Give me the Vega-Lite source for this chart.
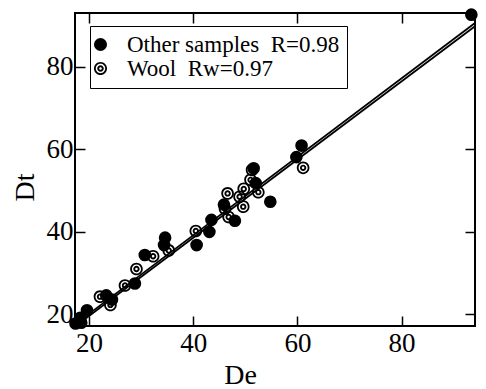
{
  "$schema": "https://vega.github.io/schema/vega-lite/v6.json",
  "width": 400,
  "height": 313,
  "autosize": {"type": "none"},
  "padding": {"left": 75, "top": 13, "right": 11, "bottom": 63},
  "background": "white",
  "datasets": {
    "pts": [
      {"De": 17.4, "Dt": 17.8, "group": "Other samples"},
      {"De": 18.5, "Dt": 18.0, "group": "Other samples"},
      {"De": 18.3, "Dt": 19.2, "group": "Other samples"},
      {"De": 19.6, "Dt": 21.0, "group": "Other samples"},
      {"De": 23.3, "Dt": 24.6, "group": "Other samples"},
      {"De": 24.4, "Dt": 23.6, "group": "Other samples"},
      {"De": 28.8, "Dt": 27.5, "group": "Other samples"},
      {"De": 30.7, "Dt": 34.4, "group": "Other samples"},
      {"De": 34.4, "Dt": 36.8, "group": "Other samples"},
      {"De": 34.6, "Dt": 38.6, "group": "Other samples"},
      {"De": 40.65, "Dt": 36.8, "group": "Other samples"},
      {"De": 43.1, "Dt": 40.0, "group": "Other samples"},
      {"De": 43.5, "Dt": 42.9, "group": "Other samples"},
      {"De": 48.0, "Dt": 42.7, "group": "Other samples"},
      {"De": 45.9, "Dt": 46.6, "group": "Other samples"},
      {"De": 51.6, "Dt": 55.4, "group": "Other samples"},
      {"De": 52.0, "Dt": 51.8, "group": "Other samples"},
      {"De": 54.8, "Dt": 47.3, "group": "Other samples"},
      {"De": 59.8, "Dt": 58.1, "group": "Other samples"},
      {"De": 60.8, "Dt": 60.9, "group": "Other samples"},
      {"De": 93.4, "Dt": 92.6, "group": "Other samples"},
      {"De": 22.1, "Dt": 24.3, "group": "Wool"},
      {"De": 24.1, "Dt": 22.3, "group": "Wool"},
      {"De": 26.9, "Dt": 27.0, "group": "Wool"},
      {"De": 29.1, "Dt": 31.0, "group": "Wool"},
      {"De": 32.3, "Dt": 34.1, "group": "Wool"},
      {"De": 35.3, "Dt": 35.5, "group": "Wool"},
      {"De": 40.5, "Dt": 40.2, "group": "Wool"},
      {"De": 46.1, "Dt": 45.6, "group": "Wool"},
      {"De": 46.8, "Dt": 43.6, "group": "Wool"},
      {"De": 46.6, "Dt": 49.3, "group": "Wool"},
      {"De": 48.9, "Dt": 48.5, "group": "Wool"},
      {"De": 49.6, "Dt": 46.1, "group": "Wool"},
      {"De": 49.7, "Dt": 50.4, "group": "Wool"},
      {"De": 51.0, "Dt": 52.6, "group": "Wool"},
      {"De": 51.3, "Dt": 55.0, "group": "Wool"},
      {"De": 52.5, "Dt": 49.6, "group": "Wool"},
      {"De": 61.1, "Dt": 55.5, "group": "Wool"}
    ],
    "fits": [
      {"De": 17.3, "Dt": 17.6, "fit": "Other samples"},
      {"De": 94.1, "Dt": 90.6, "fit": "Other samples"},
      {"De": 17.3, "Dt": 17.1, "fit": "Wool"},
      {"De": 94.1, "Dt": 89.8, "fit": "Wool"}
    ]
  },
  "layer": [
    {
      "data": {"name": "fits"},
      "mark": {"type": "line", "color": "black", "strokeWidth": 1.8},
      "encoding": {
        "x": {"field": "De", "type": "quantitative", "scale": {"domain": [17.3, 94.1], "zero": false, "nice": false},
          "axis": {"orient": "top", "values": [20, 40, 60, 80], "labels": false, "title": null, "domain": false, "grid": false,
            "offset": -10, "tickSize": 10, "tickWidth": 1.5, "tickColor": "black"}},
        "y": {"field": "Dt", "type": "quantitative", "scale": {"domain": [17.2, 93.0], "zero": false, "nice": false},
          "axis": {"orient": "right", "values": [20, 40, 60, 80], "labels": false, "title": null, "domain": false, "grid": false,
            "offset": -10, "tickSize": 10, "tickWidth": 1.5, "tickColor": "black"}},
        "detail": {"field": "fit"}
      }
    },
    {
      "data": {"name": "pts"},
      "mark": {"type": "point", "filled": true, "color": "black", "opacity": 1, "size": 160, "strokeWidth": 0},
      "encoding": {
        "x": {"field": "De", "type": "quantitative",
          "axis": {"orient": "bottom", "values": [20, 40, 60, 80], "domain": false, "grid": false,
            "offset": -10, "tickSize": 10, "tickWidth": 1.5, "tickColor": "black", "labelPadding": 4,
            "labelFont": "Liberation Serif", "labelFontSize": 27,
            "title": "De", "titleX": 165, "titleY": 67, "titleBaseline": "alphabetic", "titleAlign": "center", "titleAnchor": null}},
        "y": {"field": "Dt", "type": "quantitative",
          "axis": {"orient": "left", "values": [20, 40, 60, 80], "domain": false, "grid": false,
            "offset": -10, "tickSize": 10, "tickWidth": 1.5, "tickColor": "black", "labelPadding": 2,
            "labelFont": "Liberation Serif", "labelFontSize": 27,
            "title": "Dt", "titleX": -52, "titleY": 174, "titleBaseline": "alphabetic", "titleAlign": "center", "titleAngle": -90}},
        "shape": {"field": "group", "type": "nominal",
          "scale": {"domain": ["Other samples", "Wool"],
            "range": ["circle", "M-1,0A1,1,0,1,1,1,0A1,1,0,1,1,-1,0ZM-0.72,0A0.72,0.72,0,1,0,0.72,0A0.72,0.72,0,1,0,-0.72,0ZM-0.5,0A0.5,0.5,0,1,1,0.5,0A0.5,0.5,0,1,1,-0.5,0ZM-0.2,0A0.2,0.2,0,1,0,0.2,0A0.2,0.2,0,1,0,-0.2,0Z"]},
          "legend": {"orient": "none", "legendX": 15, "legendY": 13, "title": null, "padding": 7,
            "strokeColor": "black", "fillColor": "white", "cornerRadius": 0,
            "rowPadding": -1, "labelOffset": 15, "symbolOffset": -8,
            "symbolSize": 170, "symbolFillColor": "black", "symbolStrokeWidth": 0, "symbolStrokeColor": "black",
            "labelFont": "Liberation Serif", "labelFontSize": 23, "labelColor": "black", "labelLimit": 400,
            "labelExpr": "datum.label == 'Wool' ? 'Wool\u00a0\u00a0Rw=0.97' : 'Other samples\u00a0\u00a0R=0.98'"}}
      }
    }
  ],
  "resolve": {"axis": {"x": "independent", "y": "independent"}},
  "config": {
    "font": "Liberation Serif",
    "view": {"stroke": "black", "strokeWidth": 2},
    "axis": {"labelFont": "Liberation Serif", "labelFontSize": 27, "labelColor": "black",
      "titleFont": "Liberation Serif", "titleFontSize": 28, "titleFontWeight": "normal", "titleColor": "black"},
    "legend": {"labelFont": "Liberation Serif"}
  }
}
